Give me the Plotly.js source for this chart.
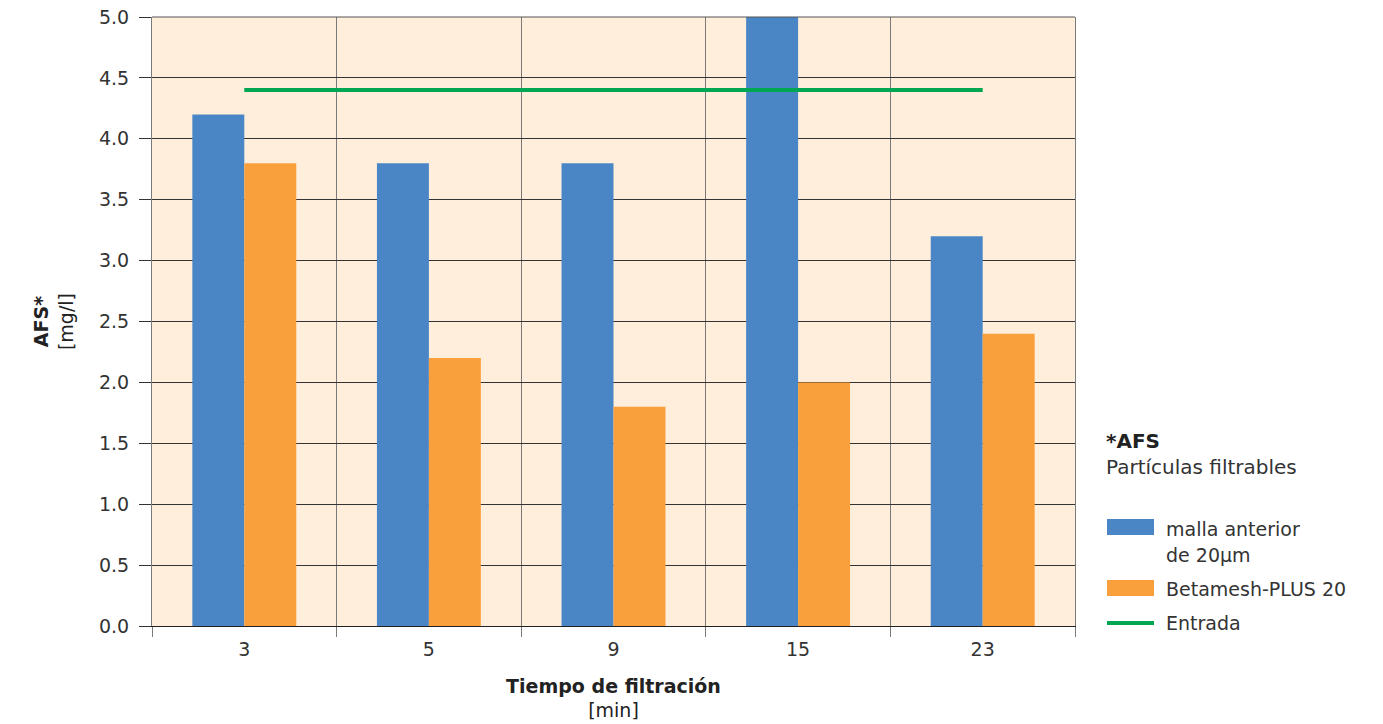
<!DOCTYPE html>
<html>
<head>
<meta charset="utf-8">
<script src="https://cdn.plot.ly/plotly-3.0.1.min.js"></script>
<style>html,body{margin:0;padding:0;background:#fff;}#chart{width:1383px;height:724px;}</style>
</head>
<body>
<div id="chart"></div>
<script>
const categories = ['3', '5', '9', '15', '23'];
const mallaAnterior = [4.2, 3.8, 3.8, 5.0, 3.2];
const betamesh = [3.8, 2.2, 1.8, 2.0, 2.4];
const entrada = [4.4, 4.4, 4.4, 4.4, 4.4];
const yTicks = [0, 0.5, 1, 1.5, 2, 2.5, 3, 3.5, 4, 4.5, 5];
const yTickLabels = ['0.0','0.5','1.0','1.5','2.0','2.5','3.0','3.5','4.0','4.5','5.0'];
const seriesNames = ['malla anterior<br>de 20µm', 'Betamesh-PLUS 20', 'Entrada'];

const BLUE = '#4a86c6', ORANGE = '#f9a03c', GREEN = '#00a651';
const FONT = 'DejaVu Sans, Noto Sans, sans-serif';
const TXT = '#333333';

const traces = [
  {type: 'bar', x: categories, y: mallaAnterior, name: seriesNames[0], marker: {color: BLUE}, hoverinfo: 'x+y'},
  {type: 'bar', x: categories, y: betamesh, name: seriesNames[1], marker: {color: ORANGE}, hoverinfo: 'x+y'},
  {type: 'scatter', mode: 'lines', x: categories, y: entrada, name: seriesNames[2], line: {color: GREEN, width: 4}}
];

// custom legend (paper coords from pixel positions)
const L = 152, R = 1075, T = 17, B = 626;
const px = v => (v - L) / (R - L);
const py = v => (B - v) / (B - T);

const shapes = [
  {type: 'rect', xref: 'paper', yref: 'paper', x0: px(1107), x1: px(1154), y0: py(535), y1: py(519), fillcolor: BLUE, line: {width: 0}},
  {type: 'rect', xref: 'paper', yref: 'paper', x0: px(1107), x1: px(1154), y0: py(596), y1: py(580), fillcolor: ORANGE, line: {width: 0}},
  {type: 'line', xref: 'paper', yref: 'paper', x0: px(1107), x1: px(1154), y0: py(623), y1: py(623), line: {color: GREEN, width: 4}},
  {type: 'line', xref: 'paper', yref: 'paper', x0: 0, x1: 1, y0: 1, y1: 1, line: {color: '#555', width: 1}, layer: 'above'}
];

const ann = (text, x, y, size, color) => ({
  text, xref: 'paper', yref: 'paper', x: px(x), y: py(y), xanchor: 'left', yanchor: 'middle',
  showarrow: false, align: 'left', font: {family: FONT, size: size || 19, color: color || TXT}
});

const annotations = [
  ann('<b>*AFS</b>', 1104, 441, 20, '#222'),
  ann('Partículas filtrables', 1104, 467, 20),
  ann('malla anterior', 1164, 529),
  ann('de 20µm', 1164, 555),
  ann('Betamesh-PLUS 20', 1164, 589),
  ann('Entrada', 1164, 623)
];

const layout = {
  width: 1383, height: 724,
  margin: {l: L, r: 1383 - R, t: T, b: 724 - B, pad: 0},
  paper_bgcolor: '#ffffff',
  plot_bgcolor: '#feeedb',
  barmode: 'group',
  bargap: 0.437,
  bargroupgap: 0,
  showlegend: false,
  font: {family: FONT, size: 19, color: TXT},
  xaxis: {
    type: 'category',
    tickson: 'boundaries',
    ticks: 'outside', ticklen: 10, tickcolor: '#7a7a7a', tickwidth: 1,
    ticklabelstandoff: 6,
    showgrid: true, gridcolor: '#7a7a7a', gridwidth: 1,
    showline: true, linecolor: '#222', linewidth: 1,
    tickfont: {family: FONT, size: 19, color: TXT},
    title: {text: '<b>Tiempo de filtración</b><br>[min]', font: {family: FONT, size: 19, color: '#222'}, standoff: 20},
    fixedrange: true
  },
  yaxis: {
    range: [0, 5],
    tickvals: yTicks, ticktext: yTickLabels,
    ticks: 'outside', ticklen: 12, tickcolor: '#333', tickwidth: 1,
    ticklabelstandoff: 6,
    showgrid: true, gridcolor: '#333', gridwidth: 1,
    zeroline: false,
    showline: true, mirror: true, linecolor: '#7a7a7a', linewidth: 1,
    tickfont: {family: FONT, size: 19, color: TXT},
    title: {text: '<b>AFS*</b><br>[mg/l]', font: {family: FONT, size: 19, color: '#222'}, standoff: 20},
    fixedrange: true
  },
  shapes, annotations
};

Plotly.newPlot('chart', traces, layout, {displayModeBar: false, staticPlot: true});
</script>
</body>
</html>
